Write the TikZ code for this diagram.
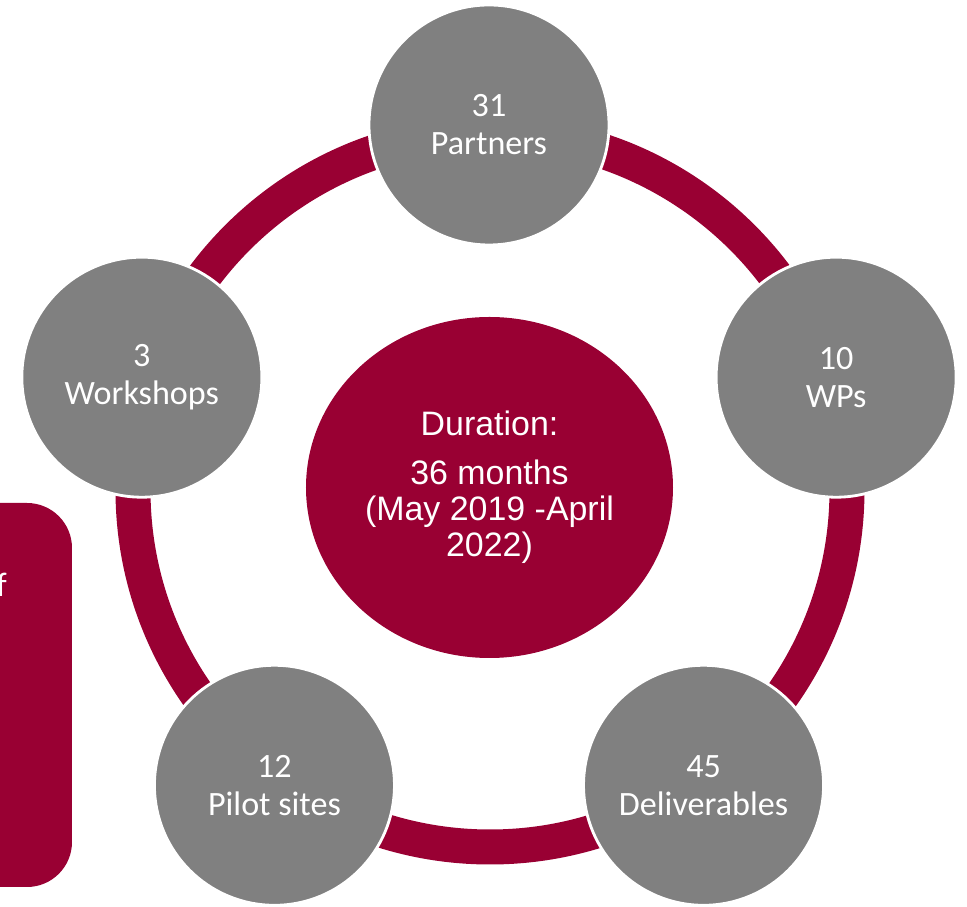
\documentclass[tikz,border=0pt]{standalone}
\usepackage{fontspec}
\setmainfont{Carlito}
\newfontfamily\arialfont{Liberation Sans}
\usetikzlibrary{shapes.geometric}
\definecolor{projectred}{RGB}{153, 0, 51}
\definecolor{statgray}{RGB}{128, 128, 128}

\begin{document}
\begin{tikzpicture}[
    stat/.style={circle, fill=statgray, draw=white, line width=1.6pt,
      minimum size=4.8cm, inner sep=0pt, align=center, text=white,
      font=\fontsize{19.4}{21.6}\selectfont},
    core/.style={ellipse, fill=projectred, minimum width=7.34cm,
      minimum height=6.82cm, inner sep=0pt, align=center, text=white,
      font=\arialfont\fontsize{19.3}{20.5}\selectfont}
  ]
  % Page frame (1cm = 50px)
  \useasboundingbox (-9.78, 9.8) rectangle (9.56, -8.34);
  \clip (-9.78, 9.8) rectangle (9.56, -8.34);

  % Side panel, running off the left edge
  \fill[projectred, rounded corners=0.9cm] (-11, -0.26) rectangle (-8.34, -7.94);
  \node[anchor=base west, inner sep=0pt, text=white,
    font=\fontsize{19.4}{21.6}\selectfont] (sidetext) at (-9.86, -2.14) {f};

  % Ring behind the key figures
  \draw[projectred, line width=0.7cm] (0.02, 0) circle (7.14);

  % Centre
  \node[core] (duration) at (0.01, 0.05)
    {Duration:\\[0.26cm]36 months\\(May 2019 -April\\2022)};

  % Key figures round the ring
  \node[stat] (partners) at (90:7.3) {31\\Partners};
  \node[stat] (wps) at (18:7.3) {10\\WPs};
  \node[stat] (deliverables) at (-54:7.3) {45\\Deliverables};
  \node[stat] (pilots) at (234:7.3) {12\\Pilot sites};
  \node[stat] (workshops) at (162:7.3) {3\\Workshops};
\end{tikzpicture}
\end{document}
